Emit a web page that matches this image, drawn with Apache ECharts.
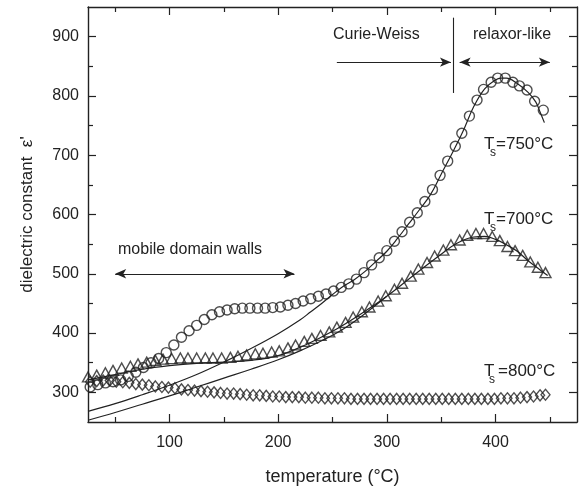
<!DOCTYPE html>
<html><head><meta charset="utf-8">
<script src="https://cdn.jsdelivr.net/npm/echarts@6/dist/echarts.min.js"></script>
<style>html,body{margin:0;padding:0;background:#fff}#c{width:580px;height:490px}</style>
</head><body><div id="c"></div>
<script>
// Ts = 750 °C (circles)
const circT   = [27,34,41,48,55,62,69,76,83,90,97,104,111,118,125,132,139,146,153,160,167,174,181,188,195,202,209,216,223,230,237,244,251,258,265,272,279,286,293,300,307,314,321,328,335,342,349,356,363,369,376,383,389,396,402,409,416,422,429,436,444];
const circEps = [309,313,316,318,321,327,334,342,350,357,367,380,393,404,413,423,431,436,439,441,442,442,442,442,443,444,447,450,454,458,462,466,471,477,483,491,502,515,527,539,555,571,587,603,622,642,666,690,715,737,766,793,811,823,830,830,823,817,810,791,776];
// Ts = 700 °C (triangles)
const triT   = [25,33,41,48,56,64,71,79,87,94,102,110,117,125,133,140,148,156,163,171,179,186,194,201,209,216,224,231,239,247,254,262,269,277,284,292,299,307,314,322,329,337,344,352,359,367,374,382,389,397,404,411,418,425,432,439,446];
const triEps = [326,329,333,337,341,344,348,351,354,356,357,358,358,358,358,358,358,359,361,363,365,366,368,370,375,380,386,391,396,402,410,418,427,436,444,454,463,474,484,496,508,519,530,540,549,557,565,568,568,563,556,546,539,531,520,511,502];
// Ts = 800 °C (diamonds)
const diaT   = [27,33,39,45,51,57,63,69,75,81,87,93,99,105,111,117,123,129,135,141,147,153,159,165,171,177,183,189,195,201,207,213,219,225,231,237,243,249,255,261,267,273,279,285,291,297,303,309,315,321,327,333,339,345,351,357,363,369,375,381,387,393,399,405,411,417,423,429,435,441,446];
const diaEps = [318,319,320,320,318,317,316,314,313,312,310,309,308,307,305,304,303,302,301,300,299,298,298,297,296,295,295,294,293,293,292,292,292,291,291,291,290,290,290,290,289,289,289,289,289,289,289,289,289,289,289,289,289,289,289,289,289,289,289,289,289,289,289,290,290,290,291,292,293,295,296];
// fit curves
const fitUpT   = [25,50,75,100,125,150,175,200,220,230,240,250,260,270,280,290,300,310,320,330,340,350,360,370,380,390,400,405,410,420,430,437,441,445];
const fitUpEps = [268,281,296,312,330,351,374,399,422,436,450,465,479,490,504,521,538,560,584,608,633,668,703,740,782,812,827,830,830,821,806,790,773,755];
const fitLoT   = [25,50,75,100,125,150,175,200,220,240,260,280,300];
const fitLoEps = [253,266,280,294,309,324,339,355,370,387,407,433,462];
const fitTriT   = [25,50,75,100,125,150,175,200,225,250,275,300,325,350,365,380,390,400,410,420,430,440,448];
const fitTriEps = [321,330,339,345,349,351,354,362,380,403,431,462,498,533,552,562,563,558,549,538,522,508,497];
// ticks
const xMajor = [100,200,300,400];
const xMinor = [50,150,250,350,450];
const yMajor = [300,400,500,600,700,800,900];
const yMinor = [350,450,550,650,750,850];

const zip = (a,b) => a.map((v,i)=>[v,b[i]]);
const ink = '#222';
const FONT = '"Liberation Sans", Arial, sans-serif';

function xAx(pos, ticks, len, line, labels, extra) {
  return Object.assign({
    type:'value', position:pos, min:25, max:475,
    axisLine:{show:line, onZero:false, lineStyle:{color:ink, width:1.4}},
    axisTick:{show:true, inside:true, length:len, customValues:ticks, lineStyle:{color:ink, width:1.2}},
    axisLabel: labels ? {show:true, customValues:ticks, color:ink, fontSize:16, fontFamily:FONT, margin:13} : {show:false},
    splitLine:{show:false}
  }, extra||{});
}
function yAx(pos, ticks, len, line, labels, extra) {
  return Object.assign({
    type:'value', position:pos, min:250, max:950,
    axisLine:{show:line, onZero:false, lineStyle:{color:ink, width:1.4}},
    axisTick:{show:true, inside:true, length:len, customValues:ticks, lineStyle:{color:ink, width:1.2}},
    axisLabel: labels ? {show:true, customValues:ticks, color:ink, fontSize:16, fontFamily:FONT, margin:9} : {show:false},
    splitLine:{show:false}
  }, extra||{});
}

const lineStyle = {color:ink, width:1.2};
const markStyle = {color:'transparent', borderColor:'#222', borderWidth:1.4};

const chart = echarts.init(document.getElementById('c'), null, {renderer:'canvas'});
chart.setOption({
  animation:false,
  backgroundColor:'#fff',
  grid:{left:88, right:3, top:7, bottom:68, containLabel:false, outerBoundsMode:'none'},
  xAxis:[
    xAx('bottom', xMajor, 8, true, true, {name:'temperature (°C)', nameLocation:'middle', nameGap:46,
        nameTextStyle:{color:ink, fontSize:18, fontFamily:FONT}}),
    xAx('bottom', xMinor, 5, false, false),
    xAx('top', xMajor, 8, true, false),
    xAx('top', xMinor, 5, false, false)
  ],
  yAxis:[
    yAx('left', yMajor, 8, true, true, {name:"dielectric constant  ε'", nameLocation:'middle', nameGap:52,
        nameTextStyle:{color:ink, fontSize:17, fontFamily:FONT}}),
    yAx('left', yMinor, 5, false, false),
    yAx('right', yMajor, 8, true, false),
    yAx('right', yMinor, 5, false, false)
  ],
  series:[
    {type:'line', smooth:0.4, showSymbol:false, data:zip(fitUpT, fitUpEps), lineStyle, z:2},
    {type:'line', smooth:0.4, showSymbol:false, data:zip(fitLoT, fitLoEps), lineStyle, z:2},
    {type:'line', smooth:0.4, showSymbol:false, data:zip(fitTriT, fitTriEps), lineStyle, z:2},
    {type:'scatter', symbol:'circle', symbolSize:10, data:zip(circT, circEps), itemStyle:markStyle, z:3},
    {type:'scatter', symbol:'triangle', symbolSize:[11,10], data:zip(triT, triEps), itemStyle:markStyle, z:3},
    {type:'scatter', symbol:'diamond', symbolSize:[9,11], data:zip(diaT, diaEps), itemStyle:markStyle, z:3},
    {type:'line', data:[], silent:true,
      markLine:{silent:true, animation:false, symbolSize:[7,11], label:{show:false},
        lineStyle:{color:ink, width:1.1, type:'solid'},
        data:[
          [{coord:[254,857], symbol:'none'},{coord:[359,857], symbol:'arrow'}],
          [{coord:[367,857], symbol:'arrow'},{coord:[450,857], symbol:'arrow'}],
          [{coord:[50,500], symbol:'arrow'},{coord:[215,500], symbol:'arrow'}],
          [{coord:[361,932], symbol:'none'},{coord:[361,805], symbol:'none'}]
        ]}}
  ],
  graphic:[
    {type:'text', x:333, y:35, style:{text:'Curie-Weiss', font:'16px '+FONT, fill:ink, textVerticalAlign:'middle', verticalAlign:'middle'}},
    {type:'text', x:473, y:35, style:{text:'relaxor-like', font:'16px '+FONT, fill:ink, textVerticalAlign:'middle', verticalAlign:'middle'}},
    {type:'text', x:118, y:250, style:{text:'mobile domain walls', font:'16px '+FONT, fill:ink, textVerticalAlign:'middle', verticalAlign:'middle'}},
    {type:'text', x:484, y:144, style:{text:'T', font:'17px '+FONT, fill:ink, textVerticalAlign:'middle', verticalAlign:'middle'}},
    {type:'text', x:490, y:153, style:{text:'s', font:'12px '+FONT, fill:ink, textVerticalAlign:'middle', verticalAlign:'middle'}},
    {type:'text', x:496, y:144, style:{text:'=750°C', font:'17px '+FONT, fill:ink, textVerticalAlign:'middle', verticalAlign:'middle'}},
    {type:'text', x:484, y:219, style:{text:'T', font:'17px '+FONT, fill:ink, textVerticalAlign:'middle', verticalAlign:'middle'}},
    {type:'text', x:490, y:228, style:{text:'s', font:'12px '+FONT, fill:ink, textVerticalAlign:'middle', verticalAlign:'middle'}},
    {type:'text', x:496, y:219, style:{text:'=700°C', font:'17px '+FONT, fill:ink, textVerticalAlign:'middle', verticalAlign:'middle'}},
    {type:'text', x:484, y:371, style:{text:'T', font:'17px '+FONT, fill:ink, textVerticalAlign:'middle', verticalAlign:'middle'}},
    {type:'text', x:489, y:380, style:{text:'s', font:'12px '+FONT, fill:ink, textVerticalAlign:'middle', verticalAlign:'middle'}},
    {type:'text', x:498, y:371, style:{text:'=800°C', font:'17px '+FONT, fill:ink, textVerticalAlign:'middle', verticalAlign:'middle'}}
  ]
});
</script></body></html>
